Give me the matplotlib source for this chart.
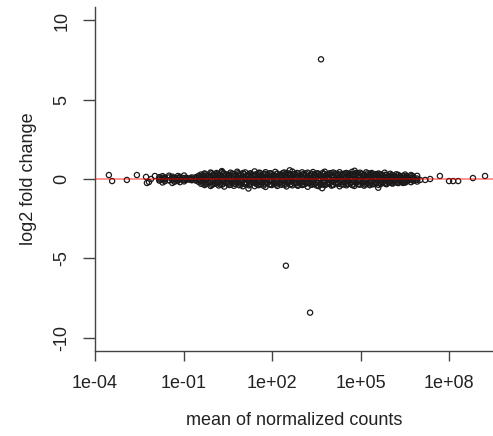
import matplotlib
matplotlib.use("Agg")
import matplotlib.pyplot as plt
import numpy as np

# log10 of mean normalized counts for the dense band (core rows share these x)
core_x = [-1.82, -1.71, -1.63, -1.49, -1.38, -1.31, -1.19, -1.12, -0.98,
          -0.91, -0.79, -0.72, -0.58, -0.49,
          -0.41, -0.29, -0.22, -0.08, 0.01, 0.12, 0.19, 0.31, 0.38, 0.52,
          0.59, 0.71, 0.82, 0.88, 1.01, 1.09, 1.22, 1.28, 1.41, 1.52,
          1.59, 1.71, 1.78, 1.92, 1.99, 2.11, 2.18, 2.32, 2.41, 2.49,
          2.62, 2.69, 2.81, 2.88, 3.02, 3.09, 3.21, 3.32, 3.39, 3.51,
          3.58, 3.72, 3.79, 3.91, 4.02, 4.08, 4.22, 4.29, 4.41, 4.52,
          4.58, 4.71, 4.79, 4.92, 4.98, 5.12, 5.19, 5.31, 5.38, 5.52,
          5.61, 5.69, 5.82, 5.88, 6.01, 6.09, 6.21, 6.28, 6.42, 6.51,
          6.58, 6.71, 6.79, 6.92]

y_top = [0.12, 0.18, 0.10, 0.21, 0.15, 0.08, 0.19, 0.14, 0.22,
         0.08, 0.05, 0.10, 0.12, 0.20,
         0.28, 0.35, 0.22, 0.41, 0.30, 0.38, 0.25, 0.44, 0.33, 0.27,
         0.40, 0.31, 0.46, 0.29, 0.37, 0.42, 0.26, 0.35, 0.48, 0.32,
         0.39, 0.28, 0.43, 0.36, 0.30, 0.45, 0.34, 0.27, 0.41, 0.38,
         0.31, 0.47, 0.29, 0.36, 0.42, 0.33, 0.40, 0.28, 0.44, 0.35,
         0.30, 0.39, 0.46, 0.27, 0.37, 0.41, 0.32, 0.43, 0.29, 0.38,
         0.34, 0.45, 0.30, 0.36, 0.40, 0.27, 0.42, 0.33, 0.38, 0.31,
         0.35, 0.28, 0.40, 0.24, 0.33, 0.22, 0.30, 0.26, 0.19, 0.28,
         0.18, 0.25, 0.15, 0.20]

y_mid1 = [0.04, 0.08, 0.02, 0.10, 0.05, 0.03, 0.07, 0.09, 0.06,
          0.02, 0.01, 0.03, 0.05, 0.08,
          0.12, 0.18, 0.08, 0.15, 0.20, 0.10, 0.16, 0.07, 0.19, 0.13,
          0.09, 0.17, 0.11, 0.21, 0.14, 0.06, 0.18, 0.12, 0.16, 0.09,
          0.20, 0.13, 0.08, 0.17, 0.11, 0.19, 0.14, 0.10, 0.22, 0.15,
          0.07, 0.18, 0.12, 0.16, 0.09, 0.20, 0.13, 0.17, 0.11, 0.14,
          0.19, 0.08, 0.15, 0.12, 0.21, 0.10, 0.17, 0.13, 0.16, 0.09,
          0.18, 0.11, 0.14, 0.20, 0.12, 0.16, 0.08, 0.15, 0.10, 0.13,
          0.17, 0.09, 0.12, 0.07, 0.14, 0.10, 0.06, 0.11, 0.08, 0.05,
          0.09, 0.04, 0.07, 0.03]

y_mid2 = [-0.03, -0.06, -0.01, -0.08, -0.04, -0.10, -0.05, -0.02, -0.07,
          -0.02, -0.01, -0.03, -0.04, -0.06,
          -0.12, -0.17, -0.09, -0.20, -0.14, -0.08, -0.18, -0.11, -0.15, -0.22,
          -0.10, -0.16, -0.13, -0.19, -0.07, -0.21, -0.12, -0.17, -0.09, -0.15,
          -0.18, -0.11, -0.23, -0.14, -0.10, -0.16, -0.20, -0.08, -0.13, -0.19,
          -0.15, -0.12, -0.21, -0.09, -0.17, -0.14, -0.11, -0.18, -0.13, -0.20,
          -0.10, -0.16, -0.12, -0.19, -0.15, -0.08, -0.22, -0.13, -0.17, -0.11,
          -0.14, -0.20, -0.09, -0.16, -0.12, -0.18, -0.10, -0.15, -0.13, -0.08,
          -0.12, -0.16, -0.07, -0.11, -0.14, -0.06, -0.10, -0.05, -0.09, -0.04,
          -0.08, -0.06, -0.03, -0.05]

y_bot = [-0.10, -0.22, -0.14, -0.08, -0.25, -0.18, -0.12, -0.20, -0.15,
         -0.06, -0.04, -0.08, -0.10, -0.18,
         -0.30, -0.38, -0.25, -0.44, -0.33, -0.28, -0.41, -0.35, -0.48, -0.30,
         -0.37, -0.43, -0.27, -0.39, -0.46, -0.32, -0.40, -0.29, -0.45, -0.36,
         -0.31, -0.42, -0.50, -0.34, -0.38, -0.28, -0.44, -0.37, -0.32, -0.47,
         -0.35, -0.40, -0.29, -0.43, -0.38, -0.33, -0.49, -0.36, -0.30, -0.41,
         -0.45, -0.34, -0.39, -0.28, -0.42, -0.37, -0.31, -0.46, -0.35, -0.40,
         -0.29, -0.38, -0.44, -0.33, -0.36, -0.42, -0.30, -0.39, -0.34, -0.27,
         -0.37, -0.31, -0.25, -0.33, -0.22, -0.29, -0.20, -0.26, -0.17, -0.23,
         -0.15, -0.20, -0.12, -0.16]

# second, staggered set of genes in the busiest part of the band
core_x2 = [-0.35, -0.25, -0.15, -0.04, 0.06, 0.16, 0.25, 0.35, 0.45, 0.55,
           0.65, 0.76, 0.85, 0.95, 1.05, 1.15, 1.25, 1.35, 1.46, 1.55,
           1.65, 1.75, 1.85, 1.95, 2.05, 2.15, 2.25, 2.36, 2.45, 2.55,
           2.65, 2.75, 2.85, 2.95, 3.05, 3.15, 3.26, 3.35, 3.45, 3.55,
           3.65, 3.75, 3.85, 3.96, 4.05, 4.15, 4.25, 4.35, 4.46, 4.55,
           4.65, 4.75, 4.85, 4.95, 5.05, 5.15, 5.25, 5.35, 5.45, 5.56,
           5.65, 5.75, 5.85, 5.95, 6.05, 6.15, 6.25, 6.35, 6.46, 6.55]

y_up2 = [0.24, 0.31, 0.20, 0.36, 0.27, 0.33, 0.22, 0.38, 0.29, 0.25,
         0.34, 0.21, 0.37, 0.28, 0.32, 0.23, 0.35, 0.26, 0.30, 0.39,
         0.22, 0.33, 0.27, 0.36, 0.24, 0.31, 0.20, 0.37, 0.29, 0.34,
         0.25, 0.32, 0.38, 0.23, 0.30, 0.35, 0.21, 0.33, 0.27, 0.36,
         0.24, 0.31, 0.28, 0.37, 0.22, 0.34, 0.26, 0.30, 0.35, 0.23,
         0.32, 0.27, 0.38, 0.25, 0.33, 0.21, 0.36, 0.28, 0.31, 0.24,
         0.30, 0.22, 0.27, 0.19, 0.25, 0.17, 0.22, 0.15, 0.19, 0.13]

y_zero2 = [0.02, -0.04, 0.05, -0.01, 0.03, -0.06, 0.04, -0.02, 0.06, -0.03,
           0.01, -0.05, 0.03, -0.02, 0.05, -0.04, 0.02, -0.06, 0.04, -0.01,
           0.06, -0.03, 0.01, -0.05, 0.03, -0.02, 0.05, -0.04, 0.02, -0.06,
           0.04, -0.01, 0.03, -0.05, 0.06, -0.02, 0.01, -0.04, 0.05, -0.03,
           0.02, -0.06, 0.04, -0.01, 0.03, -0.05, 0.06, -0.02, 0.01, -0.04,
           0.05, -0.03, 0.02, -0.06, 0.04, -0.01, 0.03, -0.05, 0.06, -0.02,
           0.01, -0.04, 0.05, -0.03, 0.02, -0.05, 0.04, -0.01, 0.03, -0.02]

y_dn2 = [-0.26, -0.33, -0.21, -0.37, -0.28, -0.24, -0.35, -0.30, -0.22, -0.38,
         -0.27, -0.32, -0.20, -0.36, -0.29, -0.25, -0.34, -0.23, -0.31, -0.39,
         -0.26, -0.33, -0.22, -0.37, -0.28, -0.35, -0.24, -0.30, -0.36, -0.21,
         -0.32, -0.27, -0.38, -0.25, -0.34, -0.29, -0.23, -0.36, -0.31, -0.26,
         -0.35, -0.22, -0.33, -0.28, -0.37, -0.24, -0.30, -0.34, -0.21, -0.32,
         -0.27, -0.36, -0.25, -0.31, -0.23, -0.35, -0.29, -0.26, -0.33, -0.22,
         -0.28, -0.24, -0.30, -0.20, -0.26, -0.18, -0.23, -0.15, -0.20, -0.13]

# sparse genes at both ends and near the band edges
sparse_x = [-3.53, -3.42, -2.92, -2.58, -2.27, -2.24, -2.17, -2.10, -1.97,
            7.02, 7.19, 7.36, 7.69, 8.00, 8.14, 8.31, 8.81, 9.22,
            6.44, 6.75, 2.60, 4.80, 1.20, 3.70, 0.30, 5.60]
sparse_y = [0.25, -0.13, -0.06, 0.25, 0.13, -0.25, -0.19, 0.00, 0.19,
            -0.06, -0.06, 0.00, 0.19, -0.13, -0.13, -0.13, 0.06, 0.19,
            -0.25, 0.20, 0.55, 0.52, -0.60, -0.58, 0.50, -0.55]

# outliers
out_x = [3.66, 2.47, 3.29]
out_y = [7.55, -5.47, -8.43]

all_x = core_x * 4 + core_x2 * 3 + sparse_x + out_x
all_y = (y_top + y_mid1 + y_mid2 + y_bot + y_up2 + y_zero2 + y_dn2
         + sparse_y + out_y)
mean_counts = np.power(10.0, np.array(all_x))
lfc = np.array(all_y)

plt.rcParams['font.family'] = ['Liberation Sans', 'DejaVu Sans']

fig = plt.figure(figsize=(4.93, 4.36), dpi=100)
ax = fig.add_axes([95 / 493, 1 - 351 / 436, 1 - 95 / 493, 344 / 436])

ax.scatter(mean_counts, lfc, s=14, facecolors='none', edgecolors='#1a1a1a',
           linewidths=0.9, zorder=2)
ax.axhline(0, color=(1, 0, 0, 0.42), lw=1.4, zorder=3)

ax.set_xscale('log')
ax.set_xlim(10 ** -4.0, 10 ** 9.49)
ax.set_ylim(-10.85, 10.85)
ax.set_xticks([1e-4, 1e-1, 1e2, 1e5, 1e8])
ax.set_xticklabels(['1e-04', '1e-01', '1e+02', '1e+05', '1e+08'])
ax.xaxis.set_minor_locator(matplotlib.ticker.NullLocator())
ax.set_yticks([-10, -5, 0, 5, 10])
ax.set_yticklabels(['-10', '-5', '0', '5', '10'], rotation=90, va='center')

for s in ['top', 'right']:
    ax.spines[s].set_visible(False)
for s in ['left', 'bottom']:
    ax.spines[s].set_color('#444444')
    ax.spines[s].set_linewidth(1.0)

ax.tick_params(axis='x', length=7.5, width=1, color='#444444', pad=10,
               labelsize=13, labelcolor='#222222')
ax.tick_params(axis='y', length=8.5, width=1, color='#444444', pad=9,
               labelsize=13, labelcolor='#222222')

ax.set_xlabel('mean of normalized counts', fontsize=13, color='#222222', labelpad=14)
ax.set_ylabel('log2 fold change', fontsize=13, color='#222222', labelpad=12)

fig.savefig('out.png', dpi=100)
